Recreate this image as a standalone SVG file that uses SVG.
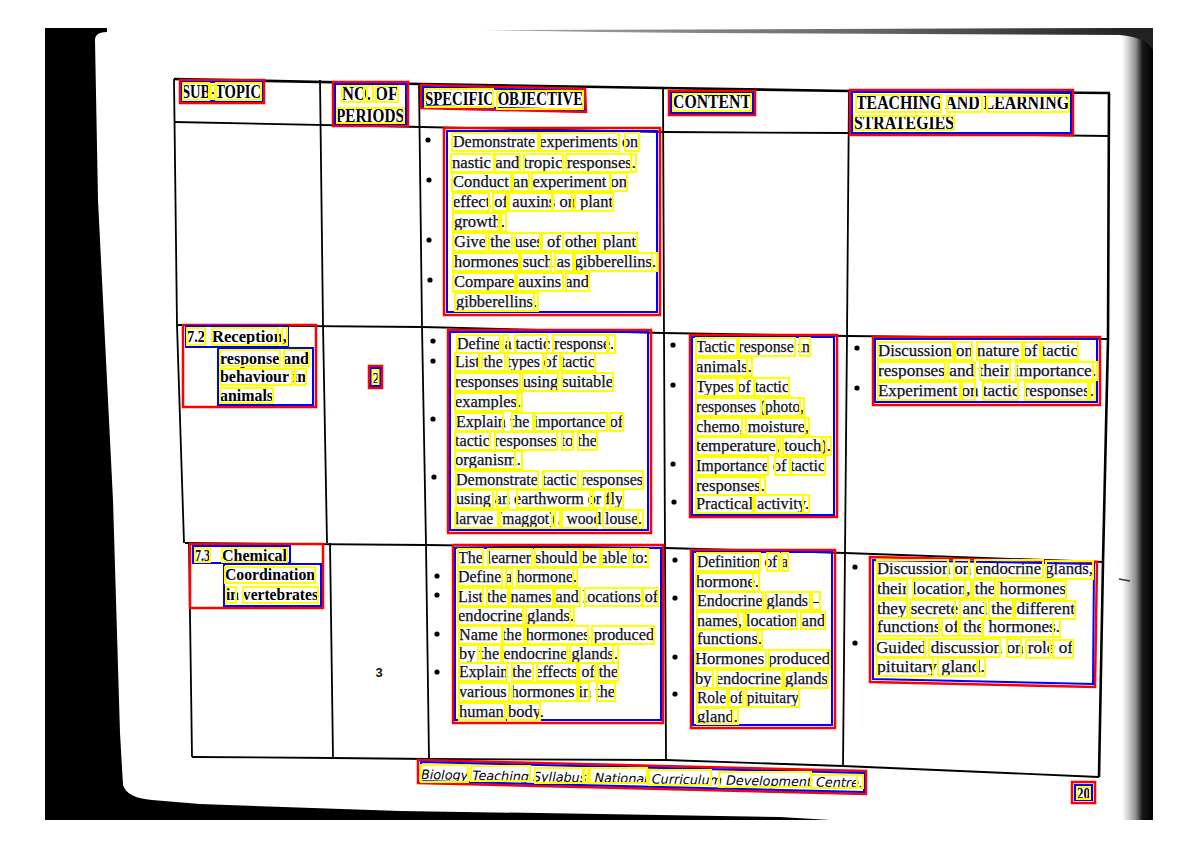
<svg xmlns="http://www.w3.org/2000/svg" width="1200" height="848" viewBox="0 0 1200 848">
<defs>
<linearGradient id="edgeR" x1="0" x2="1" y1="0" y2="0">
<stop offset="0" stop-color="#fff"/>
<stop offset="0.2" stop-color="#d0d0d0"/>
<stop offset="0.45" stop-color="#8c8c8c"/>
<stop offset="0.65" stop-color="#1a1a1a"/>
<stop offset="1" stop-color="#000"/>
</linearGradient>
<linearGradient id="edgeT" x1="0" x2="1" y1="0" y2="0">
<stop offset="0" stop-color="#aaa"/>
<stop offset="0.6" stop-color="#666"/>
<stop offset="1" stop-color="#222"/>
</linearGradient>
</defs>
<style>
.t{font-family:"Liberation Serif",serif;font-size:17px;fill:#111;stroke:#111;stroke-width:0.25}
.hd{font-family:"Liberation Serif",serif;font-size:18px;font-weight:bold;fill:#000}
.st{font-family:"Liberation Serif",serif;font-size:16px;font-weight:bold;fill:#000}
.ft{font-family:"DejaVu Sans","Liberation Sans",sans-serif;font-size:13px;font-style:italic;fill:#000}
.num{font-family:"Liberation Sans",sans-serif;font-size:13px;font-weight:bold;fill:#111}
.ln{fill:none;stroke:#000;stroke-width:1.8}
.lt{fill:none;stroke:#000;stroke-width:2.6}
.rd{fill:none;stroke:#f00;stroke-width:2.5}
.bl{fill:none;stroke:#00f;stroke-width:2}
.w{fill:none;stroke:#ff0;stroke-width:2}
.dot{fill:#000}
</style>
<rect width="1200" height="848" fill="#fff"/>
<g id="scan-edges">
<path d="M45,28 L107,28 L107,32 Q95,32 95,40 L98,200 L113,500 L120,733 L123,785 Q127,798 152,800 L200,804 L400,811 L600,814 L780,817 L830,820 L45,820 Z" fill="#000"/>
<path d="M482,30 L1128,28 L1128,35 L700,33 L600,32 Z" fill="url(#edgeT)"/>
<rect x="1122" y="28" width="31" height="792" fill="url(#edgeR)"/>
<path d="M1120,28 L1153,28 L1153,50 Q1145,37 1120,35 Z" fill="#222"/>
<line x1="1119" y1="579" x2="1130" y2="581" stroke="#333" stroke-width="1.5"/>
</g>
<g id="connectors">
<polyline class="lt" points="174,79 421,84 663,88 849,91 1110,93"/>
<polyline class="ln" points="174,122 421,127 663,132 849,133 1109,136"/>
<polyline class="ln" points="177,325 422,327 663,333 848,336 1108,339"/>
<polyline class="ln" points="185,543 426,545 665,548 845,553 1103,562"/>
<polyline class="ln" points="192,757 333,758 429,759 666,760 843,766 1099,777"/>
<polyline class="ln" points="174,79 177,325 184,543"/>
<polyline class="ln" points="189,543 192,757"/>
<polyline class="ln" points="320,80 323,325 327,543"/>
<polyline class="ln" points="330,543 333,758"/>
<polyline class="ln" points="419,84 422,326 426,545 429,759"/>
<polyline class="ln" points="663,88 664,333 665,548 666,760"/>
<polyline class="ln" points="849,91 847,336 845,553 843,766"/>
<polyline class="lt" points="1109,93 1108,339 1103,562 1099,777"/>
</g>
<g id="h-subtopic">
<text class="hd" x="182" y="98" textLength="79" lengthAdjust="spacingAndGlyphs">SUB-TOPIC</text>
<rect class="rd" x="180" y="80" width="84" height="23"/>
<rect class="bl" x="182" y="82" width="80" height="19"/>
<rect class="w" x="183" y="83" width="26" height="17"/><rect class="w" x="211" y="85" width="4" height="14"/><rect class="w" x="216" y="83" width="45" height="17"/>
</g>
<g id="h-periods">
<text class="hd" x="342" y="100" textLength="56" lengthAdjust="spacingAndGlyphs">NO. OF</text>
<text class="hd" x="336" y="122" textLength="68" lengthAdjust="spacingAndGlyphs">PERIODS</text>
<rect class="rd" x="333" y="82" width="75" height="44"/>
<rect class="bl" x="335" y="84" width="71" height="40"/>
<rect class="w" x="342" y="86" width="22" height="16"/><rect class="w" x="367" y="86" width="6" height="16"/><rect class="w" x="376" y="86" width="22" height="16"/><rect class="w" x="337" y="108" width="67" height="15"/>
</g>
<g id="h-objective">
<text class="hd" x="425" y="105" textLength="158" lengthAdjust="spacingAndGlyphs">SPECIFIC OBJECTIVE</text>
<polygon class="rd" points="421,85 585,89 586,112 421,108"/>
<polygon class="bl" points="423,87 583,91 584,110 423,106"/>
<rect class="w" x="425" y="89" width="68" height="18"/><rect class="w" x="497" y="91" width="86" height="18"/>
</g>
<g id="h-content">
<text class="hd" x="673" y="108" textLength="78" lengthAdjust="spacingAndGlyphs">CONTENT</text>
<rect class="rd" x="669" y="91" width="86" height="24"/>
<rect class="bl" x="671" y="93" width="82" height="20"/>
<rect class="w" x="673" y="94" width="78" height="17"/>
</g>
<g id="h-teaching">
<text class="hd" x="856" y="109" textLength="213" lengthAdjust="spacingAndGlyphs">TEACHING AND LEARNING</text>
<text class="hd" x="854" y="129" textLength="100" lengthAdjust="spacingAndGlyphs">STRATEGIES</text>
<rect class="rd" x="850" y="90" width="223" height="45"/>
<rect class="bl" x="852" y="92" width="219" height="41"/>
<rect class="w" x="856" y="95" width="85" height="17"/><rect class="w" x="947" y="96" width="35" height="16"/><rect class="w" x="987" y="96" width="82" height="16"/><rect class="w" x="854" y="116" width="100" height="14"/>
</g>
<g id="r1-objective">
<circle class="dot" cx="428" cy="140" r="2.6"/><circle class="dot" cx="429" cy="180" r="2.6"/><circle class="dot" cx="429" cy="240" r="2.6"/><circle class="dot" cx="430" cy="280" r="2.6"/>
<text class="t" x="453" y="147" textLength="185" lengthAdjust="spacingAndGlyphs">Demonstrate experiments on</text>
<text class="t" x="452" y="168" textLength="184" lengthAdjust="spacingAndGlyphs">nastic and tropic responses.</text>
<text class="t" x="453" y="187" textLength="174" lengthAdjust="spacingAndGlyphs">Conduct an experiment on</text>
<text class="t" x="453" y="207" textLength="160" lengthAdjust="spacingAndGlyphs">effect of auxins on plant</text>
<text class="t" x="454" y="227" textLength="51" lengthAdjust="spacingAndGlyphs">growth.</text>
<text class="t" x="454" y="247" textLength="182" lengthAdjust="spacingAndGlyphs">Give the uses of other plant</text>
<text class="t" x="454" y="267" textLength="202" lengthAdjust="spacingAndGlyphs">hormones such as gibberellins.</text>
<text class="t" x="454" y="287" textLength="135" lengthAdjust="spacingAndGlyphs">Compare auxins and</text>
<text class="t" x="456" y="307" textLength="81" lengthAdjust="spacingAndGlyphs">gibberellins.</text>
<rect class="rd" x="444" y="128" width="216" height="187"/>
<rect class="bl" x="447" y="131" width="210" height="181"/>
<g>
<rect class="w" x="452" y="133" width="86" height="18"/><rect class="w" x="540" y="133" width="79" height="18"/><rect class="w" x="625" y="133" width="14" height="18"/>
<rect class="w" x="451" y="154" width="43" height="18"/><rect class="w" x="495" y="154" width="25" height="18"/><rect class="w" x="524" y="154" width="39" height="18"/><rect class="w" x="566" y="154" width="65" height="18"/><rect class="w" x="631" y="154" width="5" height="18"/>
<rect class="w" x="452" y="173" width="59" height="18"/><rect class="w" x="513" y="173" width="16" height="18"/><rect class="w" x="532" y="173" width="78" height="18"/><rect class="w" x="611" y="173" width="16" height="18"/>
<rect class="w" x="453" y="193" width="36" height="18"/><rect class="w" x="493" y="193" width="14" height="18"/><rect class="w" x="509" y="193" width="43" height="18"/><rect class="w" x="553" y="193" width="19" height="18"/><rect class="w" x="575" y="193" width="38" height="18"/>
<rect class="w" x="453" y="213" width="46" height="18"/><rect class="w" x="501" y="213" width="5" height="18"/>
<rect class="w" x="453" y="233" width="33" height="18"/><rect class="w" x="489" y="233" width="23" height="18"/><rect class="w" x="515" y="233" width="25" height="18"/><rect class="w" x="542" y="233" width="21" height="18"/><rect class="w" x="563" y="233" width="34" height="18"/><rect class="w" x="599" y="233" width="38" height="18"/>
<rect class="w" x="453" y="253" width="66" height="18"/><rect class="w" x="521" y="253" width="30" height="18"/><rect class="w" x="555" y="253" width="18" height="18"/><rect class="w" x="575" y="253" width="77" height="18"/><rect class="w" x="652" y="253" width="5" height="18"/>
<rect class="w" x="453" y="273" width="62" height="18"/><rect class="w" x="517" y="273" width="46" height="18"/><rect class="w" x="566" y="273" width="23" height="18"/>
<rect class="w" x="455" y="293" width="79" height="18"/><rect class="w" x="534" y="293" width="4" height="18"/>
</g>
</g>
<g id="r2-subtopic">
<text class="st" x="187" y="342" textLength="18" lengthAdjust="spacingAndGlyphs">7.2</text>
<text class="st" x="212" y="342" textLength="75" lengthAdjust="spacingAndGlyphs">Reception,</text>
<text class="st" x="220" y="364" textLength="89" lengthAdjust="spacingAndGlyphs">response and</text>
<text class="st" x="220" y="382" textLength="86" lengthAdjust="spacingAndGlyphs">behaviour in</text>
<text class="st" x="220" y="401" textLength="53" lengthAdjust="spacingAndGlyphs">animals</text>
<rect class="rd" x="183" y="325" width="133" height="82"/>
<rect class="bl" x="186" y="326" width="102" height="21"/>
<rect class="bl" x="218" y="348" width="95" height="57"/>
<rect class="w" x="187" y="328" width="18" height="17"/><rect class="w" x="212" y="328" width="66" height="17"/><rect class="w" x="282" y="328" width="5" height="17"/>
<rect class="w" x="220" y="350" width="60" height="16"/><rect class="w" x="284" y="350" width="25" height="16"/>
<rect class="w" x="220" y="369" width="72" height="16"/><rect class="w" x="295" y="369" width="11" height="16"/>
<rect class="w" x="220" y="388" width="53" height="15"/>
</g>
<g id="r2-periods">
<text class="st" x="372" y="384" textLength="8" lengthAdjust="spacingAndGlyphs">2</text>
<rect class="rd" x="369" y="366" width="13" height="22"/>
<rect class="bl" x="371" y="368" width="9" height="18"/>
<rect class="w" x="372.5" y="370" width="6" height="14"/>
</g>
<g id="r2-objective">
<circle class="dot" cx="433" cy="341" r="2.6"/><circle class="dot" cx="433" cy="361" r="2.6"/><circle class="dot" cx="433" cy="419" r="2.6"/><circle class="dot" cx="434" cy="477" r="2.6"/>
<text class="t" x="457" y="349" textLength="157" lengthAdjust="spacingAndGlyphs">Define a tactic response.</text>
<text class="t" x="455" y="367" textLength="140" lengthAdjust="spacingAndGlyphs">List the types of tactic</text>
<text class="t" x="455" y="387" textLength="158" lengthAdjust="spacingAndGlyphs">responses using suitable</text>
<text class="t" x="455" y="407" textLength="66" lengthAdjust="spacingAndGlyphs">examples.</text>
<text class="t" x="456" y="427" textLength="167" lengthAdjust="spacingAndGlyphs">Explain the importance of</text>
<text class="t" x="455" y="446" textLength="142" lengthAdjust="spacingAndGlyphs">tactic responses to the</text>
<text class="t" x="455" y="465" textLength="66" lengthAdjust="spacingAndGlyphs">organism.</text>
<text class="t" x="456" y="485" textLength="187" lengthAdjust="spacingAndGlyphs">Demonstrate tactic responses</text>
<text class="t" x="456" y="504" textLength="167" lengthAdjust="spacingAndGlyphs">using an earthworm or fly</text>
<text class="t" x="455" y="524" textLength="187" lengthAdjust="spacingAndGlyphs">larvae (maggot) / wood louse.</text>
<rect class="rd" x="448" y="330" width="203" height="203"/>
<rect class="bl" x="450" y="332" width="198" height="198"/>
<g>
<rect class="w" x="457" y="335" width="43" height="18"/><rect class="w" x="503" y="335" width="5" height="18"/><rect class="w" x="515" y="335" width="32" height="18"/><rect class="w" x="553" y="335" width="54" height="18"/><rect class="w" x="608" y="335" width="7" height="18"/>
<rect class="w" x="455" y="353" width="24" height="18"/><rect class="w" x="482" y="353" width="23" height="18"/><rect class="w" x="508" y="353" width="35" height="18"/><rect class="w" x="546" y="353" width="14" height="18"/><rect class="w" x="562" y="353" width="33" height="18"/>
<rect class="w" x="455" y="373" width="65" height="18"/><rect class="w" x="523" y="373" width="35" height="18"/><rect class="w" x="562" y="373" width="51" height="18"/>
<rect class="w" x="455" y="393" width="62" height="18"/><rect class="w" x="518" y="393" width="4" height="18"/>
<rect class="w" x="456" y="413" width="47" height="18"/><rect class="w" x="512" y="413" width="21" height="18"/><rect class="w" x="535" y="413" width="72" height="18"/><rect class="w" x="610" y="413" width="13" height="18"/>
<rect class="w" x="455" y="432" width="35" height="18"/><rect class="w" x="495" y="432" width="62" height="18"/><rect class="w" x="562" y="432" width="11" height="18"/><rect class="w" x="578" y="432" width="19" height="18"/>
<rect class="w" x="455" y="451" width="60" height="18"/><rect class="w" x="515" y="451" width="7" height="18"/>
<rect class="w" x="456" y="471" width="82" height="18"/><rect class="w" x="543" y="471" width="35" height="18"/><rect class="w" x="582" y="471" width="61" height="18"/>
<rect class="w" x="456" y="490" width="37" height="18"/><rect class="w" x="497" y="490" width="11" height="18"/><rect class="w" x="517" y="490" width="73" height="18"/><rect class="w" x="593" y="490" width="12" height="18"/><rect class="w" x="610" y="490" width="13" height="18"/>
<rect class="w" x="455" y="510" width="43" height="18"/><rect class="w" x="500" y="510" width="52" height="18"/><rect class="w" x="555" y="510" width="5" height="18"/><rect class="w" x="562" y="510" width="35" height="18"/><rect class="w" x="603" y="510" width="35" height="18"/><rect class="w" x="638" y="510" width="5" height="18"/>
</g>
</g>
<g id="r2-content">
<circle class="dot" cx="673" cy="345" r="2.6"/><circle class="dot" cx="673" cy="385" r="2.6"/><circle class="dot" cx="673" cy="464" r="2.6"/><circle class="dot" cx="674" cy="502" r="2.6"/>
<text class="t" x="696" y="352" textLength="114" lengthAdjust="spacingAndGlyphs">Tactic response in</text>
<text class="t" x="696" y="372" textLength="56" lengthAdjust="spacingAndGlyphs">animals.</text>
<text class="t" x="696" y="392" textLength="93" lengthAdjust="spacingAndGlyphs">Types of tactic</text>
<text class="t" x="696" y="412" textLength="108" lengthAdjust="spacingAndGlyphs">responses (photo,</text>
<text class="t" x="696" y="432" textLength="113" lengthAdjust="spacingAndGlyphs">chemo, moisture,</text>
<text class="t" x="696" y="451" textLength="135" lengthAdjust="spacingAndGlyphs">temperature, touch).</text>
<text class="t" x="696" y="471" textLength="129" lengthAdjust="spacingAndGlyphs">Importance of tactic</text>
<text class="t" x="696" y="491" textLength="69" lengthAdjust="spacingAndGlyphs">responses.</text>
<text class="t" x="696" y="509" textLength="113" lengthAdjust="spacingAndGlyphs">Practical activity.</text>
<rect class="rd" x="690" y="335" width="147" height="182"/>
<rect class="bl" x="692" y="337" width="142" height="178"/>
<g>
<rect class="w" x="696" y="338" width="41" height="18"/><rect class="w" x="739" y="338" width="56" height="18"/><rect class="w" x="800" y="338" width="10" height="18"/>
<rect class="w" x="696" y="358" width="51" height="18"/><rect class="w" x="747" y="358" width="5" height="18"/>
<rect class="w" x="696" y="378" width="41" height="18"/><rect class="w" x="738" y="378" width="16" height="18"/><rect class="w" x="755" y="378" width="34" height="18"/>
<rect class="w" x="696" y="398" width="65" height="18"/><rect class="w" x="765" y="398" width="35" height="18"/><rect class="w" x="800" y="398" width="4" height="18"/>
<rect class="w" x="696" y="418" width="46" height="18"/><rect class="w" x="742" y="418" width="4" height="18"/><rect class="w" x="746" y="418" width="59" height="18"/><rect class="w" x="805" y="418" width="4" height="18"/>
<rect class="w" x="696" y="437" width="81" height="18"/><rect class="w" x="777" y="437" width="3" height="18"/><rect class="w" x="783" y="437" width="39" height="18"/><rect class="w" x="822" y="437" width="4" height="18"/><rect class="w" x="826" y="437" width="5" height="18"/>
<rect class="w" x="696" y="457" width="72" height="18"/><rect class="w" x="775" y="457" width="15" height="18"/><rect class="w" x="791" y="457" width="34" height="18"/>
<rect class="w" x="696" y="477" width="64" height="18"/><rect class="w" x="760" y="477" width="5" height="18"/>
<rect class="w" x="696" y="495" width="57" height="18"/><rect class="w" x="755" y="495" width="48" height="18"/><rect class="w" x="803" y="495" width="6" height="18"/>
</g>
</g>
<g id="r2-teaching">
<circle class="dot" cx="857" cy="348" r="2.6"/><circle class="dot" cx="857" cy="388" r="2.6"/>
<text class="t" x="878" y="356" textLength="200" lengthAdjust="spacingAndGlyphs">Discussion on nature of tactic</text>
<text class="t" x="878" y="376" textLength="218" lengthAdjust="spacingAndGlyphs">responses and their importance.</text>
<text class="t" x="878" y="396" textLength="216" lengthAdjust="spacingAndGlyphs">Experiment on tactic responses.</text>
<rect class="rd" x="873" y="337" width="227" height="68"/>
<rect class="bl" x="875" y="339" width="222" height="63"/>
<g>
<rect class="w" x="878" y="342" width="75" height="18"/><rect class="w" x="955" y="342" width="17" height="18"/><rect class="w" x="977" y="342" width="45" height="18"/><rect class="w" x="1024" y="342" width="16" height="18"/><rect class="w" x="1042" y="342" width="36" height="18"/>
<rect class="w" x="878" y="362" width="67" height="18"/><rect class="w" x="948" y="362" width="27" height="18"/><rect class="w" x="980" y="362" width="30" height="18"/><rect class="w" x="1016" y="362" width="77" height="18"/><rect class="w" x="1093" y="362" width="4" height="18"/>
<rect class="w" x="878" y="382" width="82" height="18"/><rect class="w" x="962" y="382" width="13" height="18"/><rect class="w" x="983" y="382" width="35" height="18"/><rect class="w" x="1025" y="382" width="63" height="18"/><rect class="w" x="1090" y="382" width="5" height="18"/>
</g>
</g>
<g id="r3-subtopic">
<text class="st" x="195" y="561" textLength="15" lengthAdjust="spacingAndGlyphs">7.3</text>
<text class="st" x="222" y="561" textLength="65" lengthAdjust="spacingAndGlyphs">Chemical</text>
<text class="st" x="225" y="580" textLength="90" lengthAdjust="spacingAndGlyphs">Coordination</text>
<text class="st" x="226" y="600" textLength="92" lengthAdjust="spacingAndGlyphs">in vertebrates</text>
<rect class="rd" x="190" y="544" width="133" height="64"/>
<rect class="bl" x="193" y="546" width="97" height="17"/>
<rect class="bl" x="224" y="564" width="97" height="42"/>
<rect class="w" x="195" y="548" width="15" height="14"/><rect class="w" x="222" y="548" width="65" height="14"/>
<rect class="w" x="225" y="567" width="90" height="16"/>
<rect class="w" x="226" y="587" width="10" height="16"/><rect class="w" x="243" y="587" width="75" height="16"/>
</g>
<g id="r3-periods">
<text class="num" x="379" y="677" text-anchor="middle">3</text>
</g>
<g id="r3-objective">
<circle class="dot" cx="437" cy="576" r="2.6"/><circle class="dot" cx="437" cy="595" r="2.6"/><circle class="dot" cx="437" cy="634" r="2.6"/><circle class="dot" cx="437" cy="672" r="2.6"/>
<text class="t" x="458" y="563" textLength="190" lengthAdjust="spacingAndGlyphs">The learner should be able to:</text>
<text class="t" x="458" y="582" textLength="119" lengthAdjust="spacingAndGlyphs">Define a hormone.</text>
<text class="t" x="458" y="602" textLength="200" lengthAdjust="spacingAndGlyphs">List the names and locations of</text>
<text class="t" x="458" y="621" textLength="116" lengthAdjust="spacingAndGlyphs">endocrine glands.</text>
<text class="t" x="459" y="640" textLength="195" lengthAdjust="spacingAndGlyphs">Name the hormones produced</text>
<text class="t" x="459" y="659" textLength="159" lengthAdjust="spacingAndGlyphs">by the endocrine glands.</text>
<text class="t" x="459" y="677" textLength="159" lengthAdjust="spacingAndGlyphs">Explain the effects of the</text>
<text class="t" x="459" y="697" textLength="156" lengthAdjust="spacingAndGlyphs">various hormones in the</text>
<text class="t" x="459" y="717" textLength="85" lengthAdjust="spacingAndGlyphs">human body.</text>
<rect class="rd" x="453" y="545" width="210" height="178"/>
<rect class="bl" x="455" y="548" width="206" height="172"/>
<g>
<rect class="w" x="458" y="549" width="25" height="18"/><rect class="w" x="488" y="549" width="44" height="18"/><rect class="w" x="535" y="549" width="45" height="18"/><rect class="w" x="582" y="549" width="18" height="18"/><rect class="w" x="602" y="549" width="27" height="18"/><rect class="w" x="632" y="549" width="16" height="18"/>
<rect class="w" x="458" y="568" width="44" height="18"/><rect class="w" x="506" y="568" width="6" height="18"/><rect class="w" x="517" y="568" width="56" height="18"/><rect class="w" x="573" y="568" width="4" height="18"/>
<rect class="w" x="458" y="588" width="25" height="18"/><rect class="w" x="487" y="588" width="21" height="18"/><rect class="w" x="510" y="588" width="43" height="18"/><rect class="w" x="555" y="588" width="25" height="18"/><rect class="w" x="585" y="588" width="57" height="18"/><rect class="w" x="643" y="588" width="15" height="18"/>
<rect class="w" x="458" y="607" width="65" height="18"/><rect class="w" x="526" y="607" width="44" height="18"/><rect class="w" x="570" y="607" width="4" height="18"/>
<rect class="w" x="459" y="626" width="43" height="18"/><rect class="w" x="503" y="626" width="21" height="18"/><rect class="w" x="526" y="626" width="62" height="18"/><rect class="w" x="592" y="626" width="62" height="18"/>
<rect class="w" x="459" y="645" width="19" height="18"/><rect class="w" x="481" y="645" width="20" height="18"/><rect class="w" x="503" y="645" width="64" height="18"/><rect class="w" x="570" y="645" width="43" height="18"/><rect class="w" x="613" y="645" width="5" height="18"/>
<rect class="w" x="459" y="663" width="48" height="18"/><rect class="w" x="512" y="663" width="21" height="18"/><rect class="w" x="537" y="663" width="40" height="18"/><rect class="w" x="579" y="663" width="16" height="18"/><rect class="w" x="598" y="663" width="20" height="18"/>
<rect class="w" x="459" y="683" width="50" height="18"/><rect class="w" x="512" y="683" width="65" height="18"/><rect class="w" x="579" y="683" width="10" height="18"/><rect class="w" x="597" y="683" width="18" height="18"/>
<rect class="w" x="459" y="703" width="46" height="17"/><rect class="w" x="508" y="703" width="32" height="17"/>
</g>
</g>
<g id="r3-content">
<circle class="dot" cx="675" cy="560" r="2.6"/><circle class="dot" cx="675" cy="598" r="2.6"/><circle class="dot" cx="675" cy="657" r="2.6"/><circle class="dot" cx="675" cy="694" r="2.6"/>
<text class="t" x="697" y="567" textLength="91" lengthAdjust="spacingAndGlyphs">Definition of a</text>
<text class="t" x="696" y="587" textLength="63" lengthAdjust="spacingAndGlyphs">hormone.</text>
<text class="t" x="697" y="606" textLength="123" lengthAdjust="spacingAndGlyphs">Endocrine glands –</text>
<text class="t" x="697" y="626" textLength="128" lengthAdjust="spacingAndGlyphs">names, location and</text>
<text class="t" x="697" y="644" textLength="65" lengthAdjust="spacingAndGlyphs">functions.</text>
<text class="t" x="695" y="664" textLength="135" lengthAdjust="spacingAndGlyphs">Hormones produced</text>
<text class="t" x="695" y="684" textLength="133" lengthAdjust="spacingAndGlyphs">by endocrine glands</text>
<text class="t" x="697" y="703" textLength="102" lengthAdjust="spacingAndGlyphs">Role of pituitary</text>
<text class="t" x="697" y="722" textLength="41" lengthAdjust="spacingAndGlyphs">gland.</text>
<rect class="rd" x="691" y="550" width="144" height="178"/>
<rect class="bl" x="693" y="552" width="139" height="173"/>
<g>
<rect class="w" x="697" y="553" width="63" height="18"/><rect class="w" x="767" y="553" width="12" height="18"/><rect class="w" x="782" y="553" width="6" height="18"/>
<rect class="w" x="696" y="573" width="57" height="18"/><rect class="w" x="753" y="573" width="6" height="18"/>
<rect class="w" x="697" y="592" width="66" height="18"/><rect class="w" x="766" y="592" width="44" height="18"/><rect class="w" x="812" y="592" width="8" height="18"/>
<rect class="w" x="697" y="612" width="41" height="17"/><rect class="w" x="738" y="612" width="6" height="17"/><rect class="w" x="746" y="612" width="51" height="17"/><rect class="w" x="801" y="612" width="24" height="17"/>
<rect class="w" x="697" y="630" width="61" height="18"/><rect class="w" x="758" y="630" width="4" height="18"/>
<rect class="w" x="695" y="650" width="71" height="18"/><rect class="w" x="769" y="650" width="61" height="18"/>
<rect class="w" x="695" y="670" width="18" height="18"/><rect class="w" x="717" y="670" width="65" height="18"/><rect class="w" x="784" y="670" width="44" height="18"/>
<rect class="w" x="697" y="689" width="30" height="18"/><rect class="w" x="729" y="689" width="14" height="18"/><rect class="w" x="746" y="689" width="53" height="18"/>
<rect class="w" x="697" y="708" width="36" height="16"/><rect class="w" x="733" y="708" width="5" height="16"/>
</g>
</g>
<g id="r3-teaching">
<circle class="dot" cx="855" cy="567" r="2.6"/><circle class="dot" cx="855" cy="643" r="2.6"/>
<text class="t" x="877" y="574" textLength="216" lengthAdjust="spacingAndGlyphs">Discussion on endocrine glands,</text>
<text class="t" x="877" y="594" textLength="189" lengthAdjust="spacingAndGlyphs">their location, the hormones</text>
<text class="t" x="877" y="614" textLength="198" lengthAdjust="spacingAndGlyphs">they secrete and the different</text>
<text class="t" x="877" y="632" textLength="183" lengthAdjust="spacingAndGlyphs">functions of the hormones.</text>
<text class="t" x="876" y="653" textLength="197" lengthAdjust="spacingAndGlyphs">Guided discussion on role of</text>
<text class="t" x="877" y="672" textLength="108" lengthAdjust="spacingAndGlyphs">pituitary gland.</text>
<polygon class="rd" points="870,557 1097,562 1095,687 870,682"/>
<polygon class="bl" points="873,560 1094,564 1093,684 873,679"/>
<g>
<rect class="w" x="877" y="560" width="71" height="18"/><rect class="w" x="954" y="560" width="15" height="18"/><rect class="w" x="975" y="560" width="68" height="18"/><rect class="w" x="1046" y="561" width="47" height="18"/>
<rect class="w" x="877" y="580" width="30" height="18"/><rect class="w" x="913" y="580" width="52" height="18"/><rect class="w" x="965" y="580" width="6" height="18"/><rect class="w" x="973" y="580" width="22" height="18"/><rect class="w" x="998" y="581" width="68" height="18"/>
<rect class="w" x="877" y="600" width="30" height="18"/><rect class="w" x="910" y="600" width="45" height="18"/><rect class="w" x="960" y="600" width="25" height="18"/><rect class="w" x="989" y="600" width="24" height="18"/><rect class="w" x="1015" y="601" width="60" height="18"/>
<rect class="w" x="877" y="618" width="62" height="18"/><rect class="w" x="942" y="618" width="16" height="18"/><rect class="w" x="960" y="618" width="22" height="18"/><rect class="w" x="983" y="619" width="70" height="18"/><rect class="w" x="1053" y="619" width="7" height="18"/>
<rect class="w" x="876" y="639" width="49" height="18"/><rect class="w" x="929" y="639" width="71" height="18"/><rect class="w" x="1007" y="639" width="14" height="18"/><rect class="w" x="1026" y="640" width="24" height="18"/><rect class="w" x="1053" y="640" width="20" height="18"/>
<rect class="w" x="877" y="658" width="56" height="18"/><rect class="w" x="938" y="658" width="39" height="18"/><rect class="w" x="978" y="658" width="7" height="18"/>
</g>
</g>
<g id="footer">
<text class="ft" x="421" y="779" textLength="442" lengthAdjust="spacingAndGlyphs" transform="rotate(1.1 421 779)">Biology Teaching Syllabus, National Curriculum Development Centre.</text>
<polygon class="rd" points="418,760 866,771 866,794 418,783"/>
<polygon class="bl" points="421,762 864,773 864,792 421,781"/>
<rect class="w" x="421" y="765" width="47" height="17"/><rect class="w" x="471" y="766" width="59" height="15"/><rect class="w" x="535" y="768" width="48" height="15"/><rect class="w" x="584" y="768" width="4" height="15"/><rect class="w" x="590" y="768" width="57" height="15"/><rect class="w" x="649" y="770" width="62" height="15"/><rect class="w" x="719" y="772" width="92" height="15"/><rect class="w" x="811" y="775" width="46" height="13"/><rect class="w" x="857" y="775" width="6" height="13"/>
</g>
<g id="page-number">
<text class="st" x="1077" y="799" font-size="14" textLength="13" lengthAdjust="spacingAndGlyphs">20</text>
<rect class="rd" x="1072" y="782" width="23" height="21"/>
<rect class="bl" x="1075" y="785" width="17" height="15"/>
<rect class="w" x="1077" y="787" width="13" height="12"/>
</g>
</svg>
